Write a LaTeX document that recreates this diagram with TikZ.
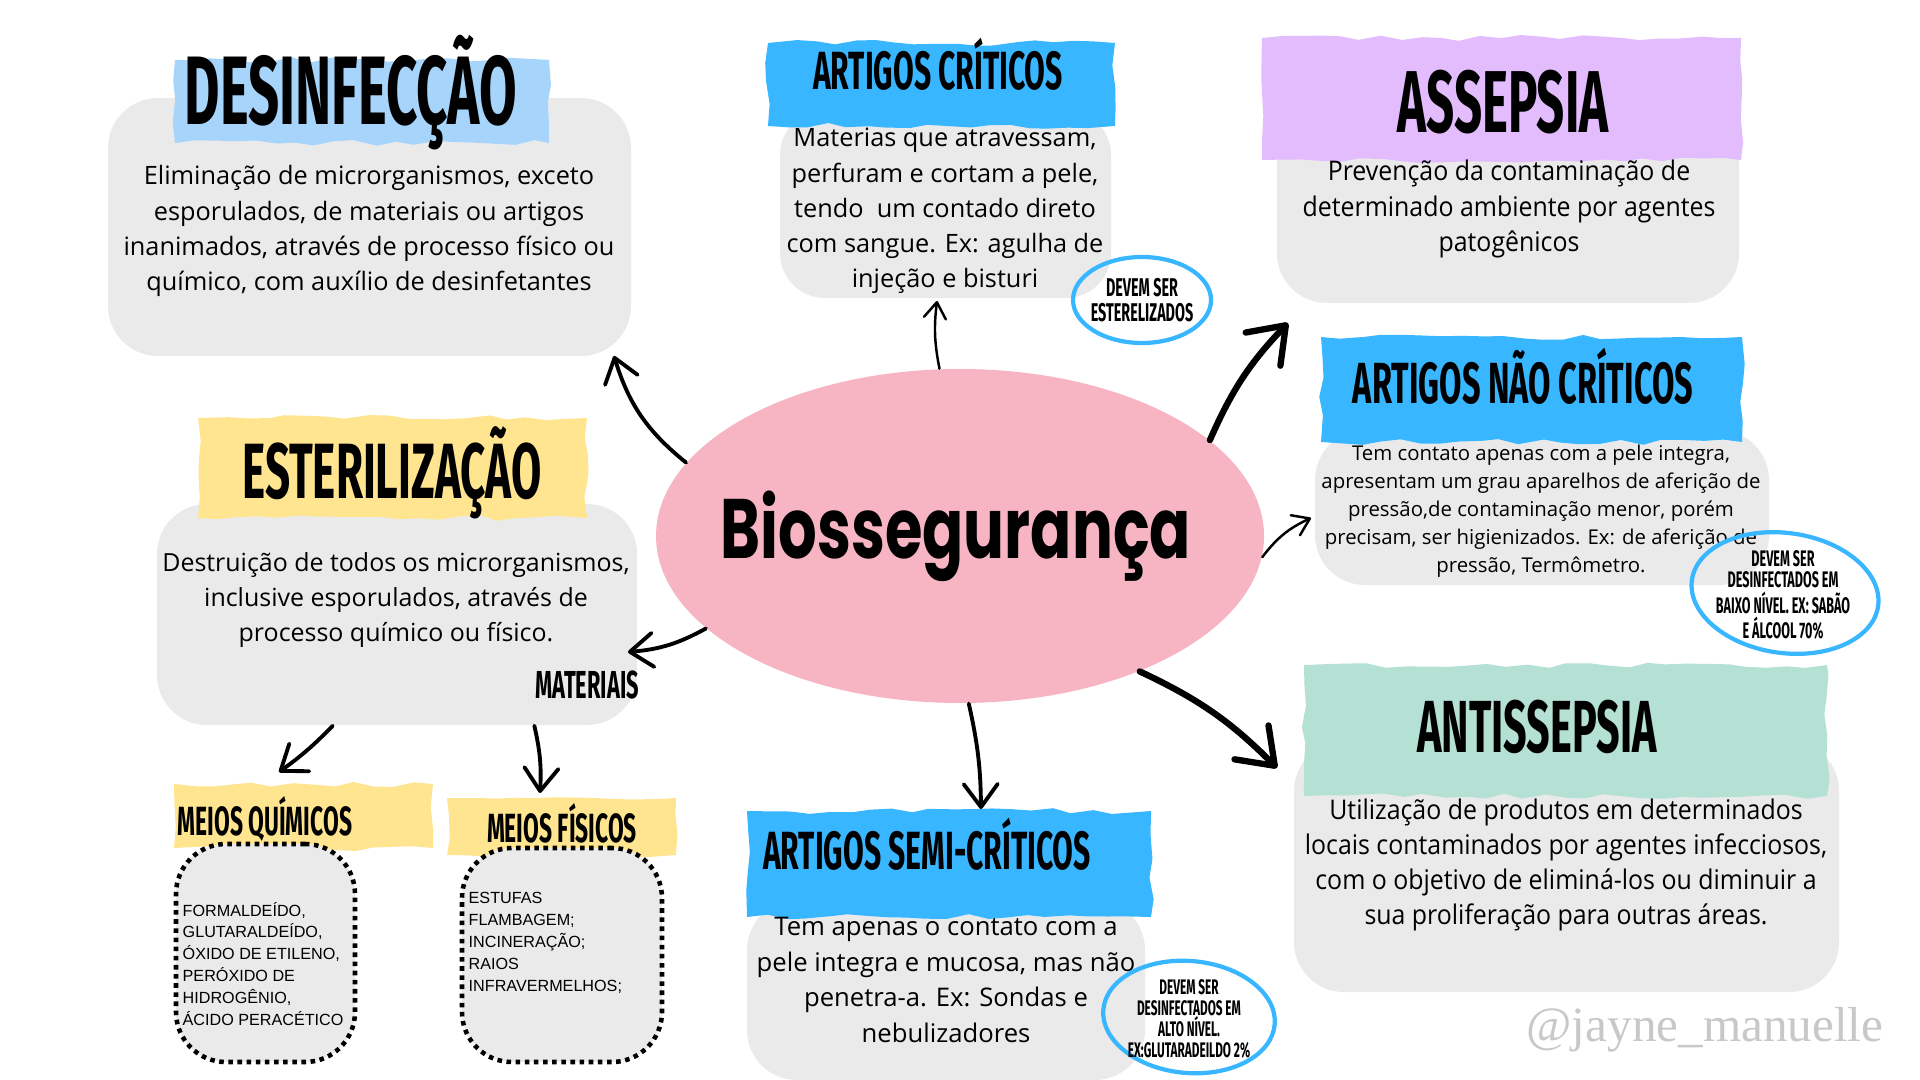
\documentclass[tikz,border=0pt]{standalone}
\usepackage{fontspec}
\setmainfont{Open Sans}
\newfontfamily\headfont[FakeStretch=0.56]{Fira Sans}
\newfontfamily\hubfont[FakeStretch=0.72]{Poppins}
\newfontfamily\narrowfont[FakeStretch=0.92]{Open Sans}
\newfontfamily\listfont{Liberation Sans}
\newfontfamily\markfont{Liberation Serif}
\usepackage{tikz}
\usetikzlibrary{
  arrows.meta, positioning, shapes.geometric,
  decorations.pathmorphing
}
\definecolor{panelgray}{HTML}{EBEAEB}
\definecolor{hubpink}{HTML}{F7B4C3}
\definecolor{skyblue}{HTML}{A6D4FA}
\definecolor{brightblue}{HTML}{38B6FF}
\definecolor{lilac}{HTML}{E2BCFD}
\definecolor{butter}{HTML}{FFE58F}
\definecolor{mint}{HTML}{B4E1D4}
\definecolor{markgray}{HTML}{C8C8C8}

\begin{document}
\begin{tikzpicture}[
  panel/.style={rectangle, fill=panelgray, rounded corners=5mm, inner sep=0pt},
  dotpanel/.style={panel, draw=black, line width=1.3pt, dash pattern=on 1.3pt off 1.3pt},
  brush/.style={fill=#1, decorate,
    decoration={random steps, segment length=2mm, amplitude=0.3mm}},
  headline/.style={inner sep=0pt, anchor=base,
    font=\headfont\bfseries\fontsize{#1}{#1}\selectfont},
  bodytext/.style 2 args={inner sep=0pt, align=center,
    font=\fontsize{#1}{#2}\selectfont},
  narrowtext/.style 2 args={inner sep=0pt, align=center,
    font=\narrowfont\fontsize{#1}{#2}\selectfont},
  listtext/.style={inner sep=0pt, align=left, anchor=west,
    font=\listfont\fontsize{4.6}{6.25}\selectfont},
  notering/.style={ellipse, draw=brightblue, line width=1.2pt, inner sep=0pt},
  notetext/.style 2 args={inner sep=0pt, align=center,
    font=\headfont\bfseries\fontsize{#1}{#2}\selectfont},
  hub/.style={ellipse, fill=hubpink, minimum width=6.08cm,
    minimum height=3.34cm, inner sep=0pt},
  hubtext/.style={inner sep=0pt, anchor=base,
    font=\hubfont\bfseries\fontsize{24}{24}\selectfont},
  linkthin/.style={line width=0.7pt, line cap=round,
    -{Straight Barb[round, length=1.6mm, width=2.2mm]}},
  linkmid/.style={line width=1.1pt, line cap=round,
    -{Straight Barb[round, length=2.3mm, width=3.4mm]}},
  linkbold/.style={line width=1.8pt, line cap=round,
    -{Straight Barb[round, length=3.3mm, width=4.8mm]}}
]
  % Backdrop
  \useasboundingbox (0,0) rectangle (19.2,-10.8);
  \fill[white] (0,0) rectangle (19.2,-10.8);
  \pgfmathsetseed{42}

  % Central hub
  \node[hub] (hub) at (9.60,-5.36) {};
  \node[hubtext] (hublabel) at (9.56,-5.58) {Biossegurança};

  % Desinfeccao
  \node[panel, minimum width=5.23cm, minimum height=2.58cm] (desbox) at (3.695,-2.27) {};
  \fill[brush=skyblue] (1.75,-0.60) rectangle (5.49,-1.43);
  \node[headline=27.7] (destitle) at (3.51,-1.25) {DESINFECÇÃO};
  \node[bodytext={7.2}{10}] (destext) at (3.69,-2.31)
    {Eliminação de microrganismos, exceto\\esporulados, de materiais ou artigos\\
     inanimados, através de processo físico ou\\químico, com auxílio de desinfetantes};

  % Artigos criticos
  \node[panel, rounded corners=4.5mm, minimum width=3.31cm, minimum height=1.88cm] (cribox) at (9.455,-2.04) {};
  \fill[brush=brightblue] (7.68,-0.43) rectangle (11.15,-1.26);
  \node[headline=15.3] (crititle) at (9.38,-0.90) {ARTIGOS CRÍTICOS};
  \node[bodytext={7.2}{10}] (critext) at (9.45,-2.11)
    {Materias que atravessam,\\perfuram e cortam a pele,\\tendo\ \ um contado direto\\
     com sangue. Ex: agulha de\\injeção e bisturi};
  \node[notering, minimum width=1.38cm, minimum height=0.86cm] (crinote) at (11.42,-3.00) {};
  \node[notetext={7.3}{7.2}] (crinotetext) at (crinote) {DEVEM SER\\ESTERELIZADOS};

  % Assepsia
  \node[panel, minimum width=4.62cm, minimum height=1.87cm] (asbox) at (15.08,-2.095) {};
  \fill[brush=lilac] (12.62,-0.38) rectangle (17.41,-1.60);
  \node[headline=25] (astitle) at (15.03,-1.33) {ASSEPSIA};
  \node[narrowtext={7.7}{10}] (astext) at (15.09,-2.09)
    {Prevenção da contaminação de\\determinado ambiente por agentes\\patogênicos};

  % Artigos nao criticos
  \node[panel, minimum width=4.54cm, minimum height=1.55cm] (naobox) at (15.42,-5.075) {};
  \fill[brush=brightblue] (13.21,-3.37) rectangle (17.42,-4.42);
  \node[headline=16.5] (naotitle) at (15.23,-4.03) {ARTIGOS NÃO CRÍTICOS};
  \node[bodytext={5.8}{8}] (naotext) at (15.41,-5.11)
    {Tem contato apenas com a pele integra,\\apresentam um grau aparelhos de aferição de\\
     pressão,de contaminação menor, porém\\precisam, ser higienizados. Ex: de aferição de\\
     pressão, Termômetro.};
  \node[notering, rotate=-8, minimum width=1.88cm, minimum height=1.20cm] (naonote) at (17.85,-5.93) {};
  \node[notetext={6.4}{6.1}] (naonotetext) at (17.83,-5.95)
    {DEVEM SER\\DESINFECTADOS EM\\BAIXO NÍVEL. EX: SABÃO\\E ÁLCOOL 70\%};

  % Esterilizacao
  \node[panel, minimum width=4.80cm, minimum height=2.21cm] (esterbox) at (3.97,-6.145) {};
  \fill[brush=butter] (1.98,-4.18) rectangle (5.87,-5.18);
  \node[headline=22.3] (estertitle) at (3.92,-4.98) {ESTERILIZAÇÃO};
  \node[bodytext={7.1}{10}] (estertext) at (3.96,-6.00)
    {Destruição de todos os microrganismos,\\inclusive esporulados, através de\\
     processo químico ou físico.};
  \node[headline=11.1] (materiais) at (5.87,-6.98) {MATERIAIS};

  % Meios quimicos
  \fill[brush=butter] (1.74,-7.84) rectangle (4.33,-8.48);
  \node[headline=11.6, anchor=base west] (quimtitle) at (1.77,-8.35) {MEIOS QUÍMICOS};
  \node[dotpanel, minimum width=1.79cm, minimum height=2.18cm] (quimbox) at (2.655,-9.53) {};
  \node[listtext] (quimtext) at (1.82,-9.64)
    {FORMALDEÍDO,\\GLUTARALDEÍDO,\\ÓXIDO DE ETILENO,\\PERÓXIDO DE\\HIDROGÊNIO,\\ÁCIDO PERACÉTICO};

  % Meios fisicos
  \fill[brush=butter] (4.47,-7.98) rectangle (6.76,-8.55);
  \node[headline=11.6] (fistitle) at (5.62,-8.42) {MEIOS FÍSICOS};
  \node[dotpanel, minimum width=2.00cm, minimum height=2.14cm] (fisbox) at (5.62,-9.55) {};
  \node[listtext] (fistext) at (4.68,-9.43)
    {ESTUFAS\\FLAMBAGEM;\\INCINERAÇÃO;\\RAIOS\\INFRAVERMELHOS;};

  % Artigos semi-criticos
  \node[panel, minimum width=3.98cm, minimum height=1.80cm] (semibox) at (9.46,-9.90) {};
  \fill[brush=brightblue] (7.47,-8.11) rectangle (11.51,-9.17);
  \node[headline=15.3] (semititle) at (9.27,-8.69) {ARTIGOS SEMI-CRÍTICOS};
  \node[bodytext={7.3}{10.1}] (semitext) at (9.46,-9.80)
    {Tem apenas o contato com a\\pele integra e mucosa, mas não\\penetra-a. Ex: Sondas e\\nebulizadores};
  \node[notering, rotate=-5, minimum width=1.72cm, minimum height=1.12cm] (seminote) at (11.89,-10.17) {};
  \node[notetext={6}{5.9}] (seminotetext) at (11.89,-10.19)
    {DEVEM SER\\DESINFECTADOS EM\\ALTO NÍVEL.\\EX:GLUTARADEILDO 2\%};

  % Antissepsia
  \node[panel, minimum width=5.45cm, minimum height=2.51cm] (antbox) at (15.665,-8.665) {};
  \fill[brush=mint] (13.04,-6.65) rectangle (18.27,-7.96);
  \node[headline=21] (anttitle) at (15.37,-7.52) {ANTISSEPSIA};
  \node[narrowtext={7.7}{10}] (anttext) at (15.66,-8.65)
    {Utilização de produtos em determinados\\locais contaminados por agentes infecciosos,\\
     com o objetivo de eliminá-los ou diminuir a\\sua proliferação para outras áreas.};

  % Signature
  \node[inner sep=0pt, markgray, font=\markfont\fontsize{14}{14}\selectfont] (signature)
    at (17.05,-10.30) {@jayne\_manuelle};

  % Arrow ends
  \coordinate (tipdes) at (6.14,-3.56);
  \coordinate (tipcri) at (9.37,-3.01);
  \coordinate (tipas) at (12.88,-3.23);
  \coordinate (tipnao) at (13.11,-5.18);
  \coordinate (tipant) at (12.77,-7.68);
  \coordinate (tipsemi) at (9.81,-8.09);
  \coordinate (tipester) at (6.28,-6.52);
  \coordinate (tipquim) at (2.79,-7.72);
  \coordinate (tipfis) at (5.40,-7.93);

  % Arrows
  \draw[linkmid] (hub.165) to[bend left=17] (tipdes);
  \draw[linkthin] (hub.97) to[bend left=9] (tipcri);
  \draw[linkbold] (hub.21) to[bend left=10] (tipas);
  \draw[linkthin] (hub.-4) to[bend left=14] (tipnao);
  \draw[linkbold] (hub.-37) to[bend left=10] (tipant);
  \draw[linkmid] (hub.-87) to[bend left=6] (tipsemi);
  \draw[linkmid] (hub.200) to[bend left=12] (tipester);
  \draw[linkmid] (esterbox.-120) to[bend left=5] (tipquim);
  \draw[linkmid] (esterbox.-39) to[bend left=8] (tipfis);
\end{tikzpicture}
\end{document}
